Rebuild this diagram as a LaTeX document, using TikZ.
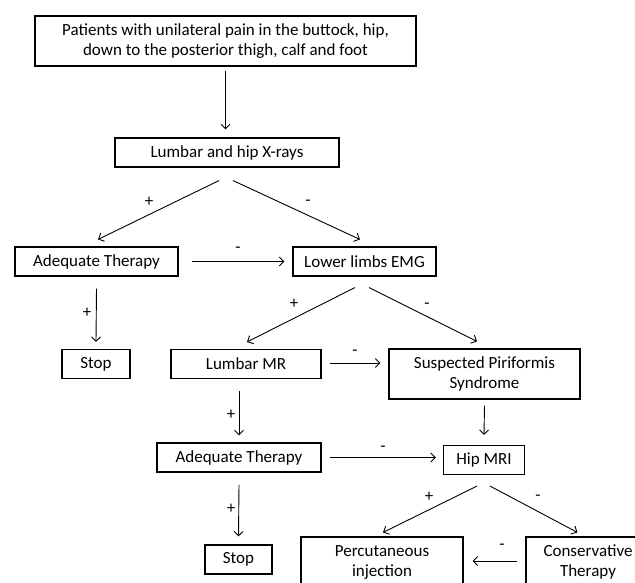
\documentclass[tikz,border=0pt]{standalone}
\usepackage{fontspec}
\setmainfont{Carlito}
\usetikzlibrary{arrows.meta,positioning}

\begin{document}
\begin{tikzpicture}[
  x=1pt,y=-1pt,
  every node/.style={font=\fontsize{17}{20}\selectfont},
  box/.style={draw,line width=1.1pt,minimum height=29pt,inner sep=2pt,
              align=center},
  arr/.style={-{Straight Barb[length=4.5pt,width=9pt]},line width=0.9pt},
  sg/.style={inner sep=1pt}]

  \useasboundingbox (0,0) rectangle (635,582);
  \clip (0,0) rectangle (635,582);

  % --- boxes, top to bottom
  \node[box,minimum width=381pt,minimum height=50pt] (pat) at (225.5,41)
    {Patients with unilateral pain in the buttock, hip,\\
     down to the posterior thigh, calf and foot};
  \node[box,minimum width=224pt] (xray) at (227,152.5) {Lumbar and hip X-rays};
  \node[box,minimum width=163pt] (at1)  at (96.5,261.5) {Adequate Therapy};
  \node[box,minimum width=143pt] (emg)  at (364.5,261.5) {Lower limbs EMG};
  \node[box,minimum width=68pt]  (stop1) at (96,364) {Stop};
  \node[box,minimum width=150pt] (lmr)  at (246,364) {Lumbar MR};
  \node[box,minimum width=191pt,minimum height=50pt] (susp) at (484.5,374)
    {Suspected Piriformis\\Syndrome};
  \node[box,minimum width=164pt] (at2)  at (239,457.5) {Adequate Therapy};
  \node[box,minimum width=81pt]  (hip)  at (484,460) {Hip MRI};
  \node[box,minimum width=67pt]  (stop2) at (238.5,559.5) {Stop};
  % --- last row runs off the bottom (and right) edge
  \node[box,minimum width=162pt,minimum height=50pt] (perc) at (382,562)
    {Percutaneous\\injection};
  \node[box,minimum width=124pt,minimum height=50pt] (cons) at (588,562)
    {Conservative\\Therapy};

  % --- connectors
  \draw[arr] ([yshift=-4pt]pat.south) -- ([xshift=-1.5pt,yshift=8pt]xray.north);
  \draw[arr] ([xshift=-8pt,yshift=-13pt]xray.south) -- ([xshift=1.5pt,yshift=7pt]at1.north);
  \draw[arr] ([xshift=6pt,yshift=-13pt]xray.south)  -- ([xshift=-4.5pt,yshift=7pt]emg.north);
  \draw[arr] ([xshift=13pt]at1.east) -- ([xshift=-8pt]emg.west);
  \draw[arr] ([yshift=-12pt]at1.south) -- ([yshift=7pt]stop1.north);
  \draw[arr] ([xshift=-9.5pt,yshift=-11pt]emg.south) -- ([xshift=1pt,yshift=7pt]lmr.north);
  \draw[arr] ([xshift=4.5pt,yshift=-11pt]emg.south)  -- ([xshift=-7.5pt,yshift=7pt]susp.north);
  \draw[arr] ([xshift=8pt,yshift=1pt]lmr.east) -- ([xshift=-8pt,yshift=1pt]susp.west |- lmr.east);
  \draw[arr] ([yshift=-12pt]at2.north |- lmr.south) -- ([yshift=7pt]at2.north);
  \draw[arr] ([yshift=-6pt]susp.south) -- ([yshift=10pt]hip.north);
  \draw[arr] ([xshift=8pt]at2.east) -- ([xshift=-7pt]hip.west |- at2.east);
  \draw[arr] ([yshift=-12pt]at2.south) -- ([yshift=8pt]stop2.north);
  \draw[arr] ([xshift=-7pt,yshift=-11pt]hip.south) -- ([xshift=1pt,yshift=4pt]perc.north);
  \draw[arr] ([xshift=6pt,yshift=-11pt]hip.south)  -- ([xshift=52pt,yshift=4pt]cons.north west);
  \draw[arr] ([xshift=-8pt,yshift=1pt]cons.west) -- ([xshift=9pt,yshift=1pt]perc.east);

  % --- +/- signs
  \node[sg] (s1)  at (149,202) {+};
  \node[sg] (s2)  at (308,203) {-};
  \node[sg] (s3)  at (238,250) {-};
  \node[sg] (s4)  at (87,313)  {+};
  \node[sg] (s5)  at (294,304) {+};
  \node[sg] (s6)  at (427,306) {-};
  \node[sg] (s7)  at (355,353) {-};
  \node[sg] (s8)  at (231,415) {+};
  \node[sg] (s9)  at (383,449) {-};
  \node[sg] (s10) at (231,509) {+};
  \node[sg] (s11) at (429,497) {+};
  \node[sg] (s12) at (538,498) {-};
  \node[sg] (s13) at (502,547) {-};
\end{tikzpicture}
\end{document}
